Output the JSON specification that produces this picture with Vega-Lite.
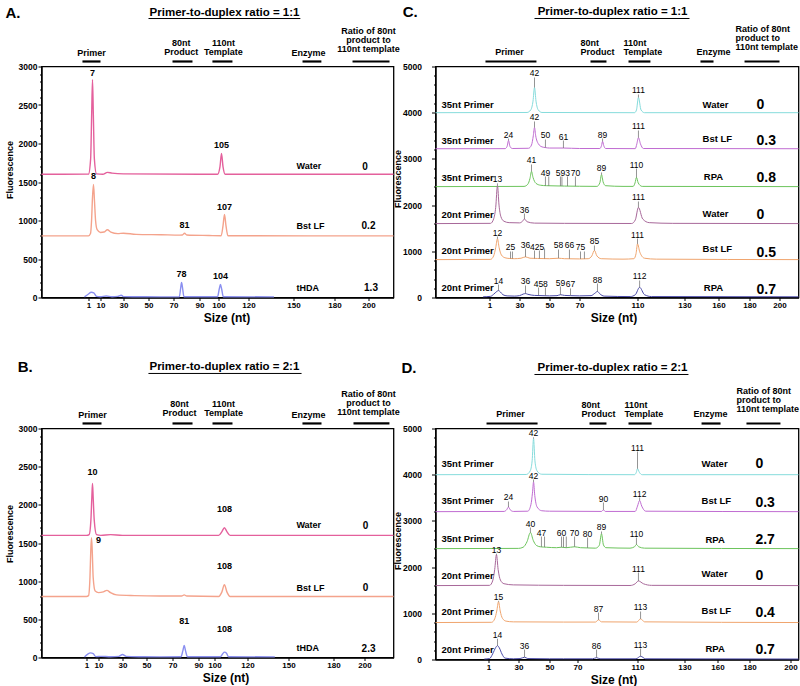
{
"$schema": "https://vega.github.io/schema/vega-lite/v6.json",
"background": "white",
"padding": {"left": 3.5, "top": 4.5, "right": 0, "bottom": 0},
"bounds": "flush",
"columns": 2,
"spacing": {"row": 131, "column": 42},
"resolve": {"scale": {"color": "independent"}},
"datasets": {
"A_tr": [
{"s":"Water","x":-34,"y":1600},{"s":"Water","x":1,"y":1602},{"s":"Water","x":2.6,"y":1800},{"s":"Water","x":3.4,"y":2400},{"s":"Water","x":4,"y":2830},{"s":"Water","x":4.6,"y":2400},{"s":"Water","x":5.4,"y":1800},{"s":"Water","x":7,"y":1605},{"s":"Water","x":12,"y":1600},{"s":"Water","x":16,"y":1625},{"s":"Water","x":20,"y":1615},{"s":"Water","x":30,"y":1605},{"s":"Water","x":90,"y":1600},{"s":"Water","x":99.5,"y":1600},{"s":"Water","x":101,"y":1700},{"s":"Water","x":102,"y":1870},{"s":"Water","x":103,"y":1700},{"s":"Water","x":104.5,"y":1600},{"s":"Water","x":220,"y":1600},
{"s":"Bst LF","x":-34,"y":800},{"s":"Bst LF","x":1,"y":800},{"s":"Bst LF","x":2.5,"y":830},{"s":"Bst LF","x":3.3,"y":1000},{"s":"Bst LF","x":4,"y":1300},{"s":"Bst LF","x":4.75,"y":1467},{"s":"Bst LF","x":5.5,"y":1250},{"s":"Bst LF","x":6.3,"y":1000},{"s":"Bst LF","x":7.5,"y":880},{"s":"Bst LF","x":10,"y":845},{"s":"Bst LF","x":13,"y":850},{"s":"Bst LF","x":16,"y":880},{"s":"Bst LF","x":19,"y":850},{"s":"Bst LF","x":25,"y":830},{"s":"Bst LF","x":30,"y":835},{"s":"Bst LF","x":40,"y":820},{"s":"Bst LF","x":60,"y":815},{"s":"Bst LF","x":75,"y":810},{"s":"Bst LF","x":76.8,"y":812},{"s":"Bst LF","x":78.5,"y":835},{"s":"Bst LF","x":80.2,"y":812},{"s":"Bst LF","x":95,"y":805},{"s":"Bst LF","x":101.8,"y":802},{"s":"Bst LF","x":103,"y":930},{"s":"Bst LF","x":104,"y":1078},{"s":"Bst LF","x":105,"y":930},{"s":"Bst LF","x":106.3,"y":802},{"s":"Bst LF","x":220,"y":800},
{"s":"tHDA","x":-2,"y":8},{"s":"tHDA","x":1,"y":45},{"s":"tHDA","x":3,"y":68},{"s":"tHDA","x":5,"y":60},{"s":"tHDA","x":7,"y":15},{"s":"tHDA","x":10,"y":10},{"s":"tHDA","x":15,"y":20},{"s":"tHDA","x":20,"y":10},{"s":"tHDA","x":25,"y":15},{"s":"tHDA","x":28,"y":30},{"s":"tHDA","x":30,"y":12},{"s":"tHDA","x":40,"y":10},{"s":"tHDA","x":60,"y":8},{"s":"tHDA","x":74.5,"y":10},{"s":"tHDA","x":75.5,"y":120},{"s":"tHDA","x":76.2,"y":195},{"s":"tHDA","x":77,"y":120},{"s":"tHDA","x":78,"y":10},{"s":"tHDA","x":99.5,"y":10},{"s":"tHDA","x":100.5,"y":110},{"s":"tHDA","x":101.3,"y":170},{"s":"tHDA","x":102.1,"y":110},{"s":"tHDA","x":103.2,"y":10},{"s":"tHDA","x":137,"y":8}
],
"A_lb": [
{"k":"peak","x":4,"y":2910,"t":"7"},{"k":"peak","x":102,"y":1987,"t":"105"},{"k":"peak","x":4.75,"y":1584,"t":"8"},{"k":"peak","x":78.5,"y":948,"t":"81"},{"k":"peak","x":104,"y":1169,"t":"107"},{"k":"peak","x":76.2,"y":299,"t":"78"},{"k":"peak","x":101.3,"y":273,"t":"104"},
{"k":"lane","x":152.2,"y":1714,"t":"Water"},{"k":"lane","x":152.2,"y":935,"t":"Bst LF"},{"k":"lane","x":152.2,"y":117,"t":"tHDA"},
{"k":"ratio","x":198,"y":1700,"t":"0"},{"k":"ratio","x":200,"y":935,"t":"0.2"},{"k":"ratio","x":202,"y":117,"t":"1.3"},
{"k":"head","x":3.25,"y":3104,"t":"Primer"},{"k":"head","x":76,"y":3234,"t":"80nt\nProduct"},{"k":"head","x":103.3,"y":3234,"t":"110nt\nTemplate"},{"k":"head","x":161,"y":3104,"t":"Enzyme"},{"k":"head","x":200,"y":3390,"t":"Ratio of 80nt\nproduct  to\n110nt template"},
{"k":"title","x":104,"y":3701,"t":"Primer-to-duplex ratio = 1:1"},{"k":"letter","x":-60.8,"y":3701,"t":"A."},
{"k":"bar","x":-3.5,"x2":10,"y":3065},{"k":"bar","x":69.2,"x2":84.6,"y":3065},{"k":"bar","x":96.8,"x2":109.3,"y":3065},{"k":"bar","x":156.6,"x2":170.4,"y":3065},{"k":"bar","x":190.6,"x2":216.8,"y":3065},{"k":"ul","x":50,"x2":155,"y":3623}
],
"B_tr": [
{"s":"Water","x":-33,"y":1600},{"s":"Water","x":1,"y":1600},{"s":"Water","x":3,"y":1610},{"s":"Water","x":4.3,"y":1800},{"s":"Water","x":5,"y":2100},{"s":"Water","x":5.5,"y":2280},{"s":"Water","x":6,"y":2100},{"s":"Water","x":6.8,"y":1800},{"s":"Water","x":8.5,"y":1610},{"s":"Water","x":12,"y":1600},{"s":"Water","x":20,"y":1610},{"s":"Water","x":30,"y":1600},{"s":"Water","x":102.5,"y":1600},{"s":"Water","x":104.5,"y":1650},{"s":"Water","x":106,"y":1700},{"s":"Water","x":107.5,"y":1650},{"s":"Water","x":109.5,"y":1600},{"s":"Water","x":220,"y":1600},
{"s":"Bst LF","x":-33,"y":800},{"s":"Bst LF","x":1,"y":800},{"s":"Bst LF","x":2.5,"y":810},{"s":"Bst LF","x":3.6,"y":1050},{"s":"Bst LF","x":4.2,"y":1400},{"s":"Bst LF","x":4.75,"y":1570},{"s":"Bst LF","x":5.3,"y":1400},{"s":"Bst LF","x":6,"y":1050},{"s":"Bst LF","x":7.5,"y":870},{"s":"Bst LF","x":10,"y":850},{"s":"Bst LF","x":14,"y":860},{"s":"Bst LF","x":17,"y":880},{"s":"Bst LF","x":20,"y":850},{"s":"Bst LF","x":25,"y":820},{"s":"Bst LF","x":40,"y":810},{"s":"Bst LF","x":60,"y":805},{"s":"Bst LF","x":77,"y":805},{"s":"Bst LF","x":79,"y":820},{"s":"Bst LF","x":81,"y":805},{"s":"Bst LF","x":102.5,"y":800},{"s":"Bst LF","x":104.5,"y":860},{"s":"Bst LF","x":106,"y":955},{"s":"Bst LF","x":107.5,"y":860},{"s":"Bst LF","x":109.5,"y":800},{"s":"Bst LF","x":220,"y":800},
{"s":"tHDA","x":-0.5,"y":8},{"s":"tHDA","x":2,"y":45},{"s":"tHDA","x":4,"y":60},{"s":"tHDA","x":6,"y":50},{"s":"tHDA","x":8,"y":12},{"s":"tHDA","x":12,"y":15},{"s":"tHDA","x":20,"y":10},{"s":"tHDA","x":27,"y":15},{"s":"tHDA","x":30,"y":40},{"s":"tHDA","x":33,"y":15},{"s":"tHDA","x":45,"y":10},{"s":"tHDA","x":60,"y":8},{"s":"tHDA","x":76.5,"y":10},{"s":"tHDA","x":78,"y":90},{"s":"tHDA","x":79,"y":157},{"s":"tHDA","x":80,"y":90},{"s":"tHDA","x":81.5,"y":10},{"s":"tHDA","x":103.5,"y":10},{"s":"tHDA","x":105,"y":50},{"s":"tHDA","x":106,"y":70},{"s":"tHDA","x":107.3,"y":55},{"s":"tHDA","x":108.5,"y":10},{"s":"tHDA","x":140,"y":8}
],
"B_lb": [
{"k":"peak","x":5.5,"y":2425,"t":"10"},{"k":"peak","x":106,"y":1940,"t":"108"},{"k":"peak","x":10,"y":1533,"t":"9"},{"k":"peak","x":106,"y":1205,"t":"108"},{"k":"peak","x":79,"y":472,"t":"81"},{"k":"peak","x":106,"y":367,"t":"108"},
{"k":"lane","x":155.3,"y":1730,"t":"Water"},{"k":"lane","x":155.3,"y":917,"t":"Bst LF"},{"k":"lane","x":155.3,"y":131,"t":"tHDA"},
{"k":"ratio","x":200.7,"y":1717,"t":"0"},{"k":"ratio","x":200.7,"y":904,"t":"0"},{"k":"ratio","x":202.8,"y":105,"t":"2.3"},
{"k":"head","x":5.5,"y":3105,"t":"Primer"},{"k":"head","x":75.4,"y":3262,"t":"80nt\nProduct"},{"k":"head","x":105.5,"y":3262,"t":"110nt\nTemplate"},{"k":"head","x":163.3,"y":3105,"t":"Enzyme"},{"k":"head","x":202.8,"y":3393,"t":"Ratio of 80nt\nproduct  to\n110nt template"},
{"k":"title","x":106,"y":3800,"t":"Primer-to-duplex ratio = 2:1"},{"k":"letter","x":-51,"y":3800,"t":"B."},
{"k":"bar","x":-2,"x2":12.5,"y":3066},{"k":"bar","x":70,"x2":85.4,"y":3066},{"k":"bar","x":98.75,"x2":110.9,"y":3066},{"k":"bar","x":159.3,"x2":172,"y":3066},{"k":"bar","x":192.9,"x2":217.2,"y":3066},{"k":"ul","x":51.5,"x2":158.7,"y":3721}
],
"C_tr": [
{"s":"c1","x":-50,"y":4000},{"s":"c1","x":35,"y":4005},{"s":"c1","x":37.5,"y":4060},{"s":"c1","x":39,"y":4250},{"s":"c1","x":40,"y":4545},{"s":"c1","x":41,"y":4250},{"s":"c1","x":42.5,"y":4060},{"s":"c1","x":45,"y":4005},{"s":"c1","x":108,"y":4000},{"s":"c1","x":109.3,"y":4060},{"s":"c1","x":110.4,"y":4330},{"s":"c1","x":111.5,"y":4060},{"s":"c1","x":113,"y":4000},{"s":"c1","x":220,"y":4000},
{"s":"c2","x":-50,"y":3220},{"s":"c2","x":16,"y":3222},{"s":"c2","x":18,"y":3270},{"s":"c2","x":19.4,"y":3400},{"s":"c2","x":20.8,"y":3270},{"s":"c2","x":23,"y":3225},{"s":"c2","x":36,"y":3230},{"s":"c2","x":38,"y":3300},{"s":"c2","x":39.2,"y":3500},{"s":"c2","x":40,"y":3680},{"s":"c2","x":40.8,"y":3500},{"s":"c2","x":42.5,"y":3330},{"s":"c2","x":45,"y":3260},{"s":"c2","x":47.3,"y":3245},{"s":"c2","x":50,"y":3235},{"s":"c2","x":59.3,"y":3235},{"s":"c2","x":70,"y":3225},{"s":"c2","x":84,"y":3225},{"s":"c2","x":85.2,"y":3290},{"s":"c2","x":85.9,"y":3380},{"s":"c2","x":86.7,"y":3290},{"s":"c2","x":88,"y":3225},{"s":"c2","x":108.5,"y":3222},{"s":"c2","x":109.5,"y":3320},{"s":"c2","x":110.4,"y":3460},{"s":"c2","x":111.3,"y":3320},{"s":"c2","x":112.5,"y":3225},{"s":"c2","x":220,"y":3220},
{"s":"c3","x":-50,"y":2400},{"s":"c3","x":33,"y":2405},{"s":"c3","x":35.5,"y":2450},{"s":"c3","x":37,"y":2580},{"s":"c3","x":38,"y":2730},{"s":"c3","x":39,"y":2600},{"s":"c3","x":41,"y":2470},{"s":"c3","x":44,"y":2430},{"s":"c3","x":48,"y":2420},{"s":"c3","x":55,"y":2415},{"s":"c3","x":60,"y":2412},{"s":"c3","x":70,"y":2408},{"s":"c3","x":82,"y":2405},{"s":"c3","x":84,"y":2480},{"s":"c3","x":85.2,"y":2660},{"s":"c3","x":86.3,"y":2500},{"s":"c3","x":88,"y":2420},{"s":"c3","x":100,"y":2405},{"s":"c3","x":107,"y":2405},{"s":"c3","x":108.3,"y":2480},{"s":"c3","x":109.3,"y":2600},{"s":"c3","x":110.3,"y":2480},{"s":"c3","x":112,"y":2405},{"s":"c3","x":220,"y":2400},
{"s":"c4","x":-50,"y":1600},{"s":"c4","x":2,"y":1605},{"s":"c4","x":5,"y":1700},{"s":"c4","x":7,"y":1950},{"s":"c4","x":8.7,"y":2420},{"s":"c4","x":10.2,"y":2000},{"s":"c4","x":12,"y":1750},{"s":"c4","x":15,"y":1650},{"s":"c4","x":20,"y":1620},{"s":"c4","x":30,"y":1615},{"s":"c4","x":32,"y":1650},{"s":"c4","x":33.3,"y":1700},{"s":"c4","x":35,"y":1640},{"s":"c4","x":40,"y":1610},{"s":"c4","x":60,"y":1605},{"s":"c4","x":106,"y":1602},{"s":"c4","x":108.5,"y":1680},{"s":"c4","x":110.4,"y":1950},{"s":"c4","x":112.2,"y":1700},{"s":"c4","x":115,"y":1620},{"s":"c4","x":125,"y":1605},{"s":"c4","x":220,"y":1600},
{"s":"c5","x":-50,"y":820},{"s":"c5","x":2,"y":825},{"s":"c5","x":5,"y":900},{"s":"c5","x":7,"y":1080},{"s":"c5","x":8.7,"y":1270},{"s":"c5","x":10.3,"y":1080},{"s":"c5","x":12.5,"y":920},{"s":"c5","x":16,"y":860},{"s":"c5","x":20,"y":845},{"s":"c5","x":25,"y":840},{"s":"c5","x":31,"y":850},{"s":"c5","x":34,"y":880},{"s":"c5","x":37,"y":850},{"s":"c5","x":42,"y":845},{"s":"c5","x":50,"y":840},{"s":"c5","x":56,"y":850},{"s":"c5","x":60,"y":840},{"s":"c5","x":70,"y":835},{"s":"c5","x":76,"y":840},{"s":"c5","x":78.5,"y":900},{"s":"c5","x":80.3,"y":1020},{"s":"c5","x":82,"y":900},{"s":"c5","x":85,"y":840},{"s":"c5","x":100,"y":830},{"s":"c5","x":107.5,"y":840},{"s":"c5","x":109,"y":950},{"s":"c5","x":110,"y":1160},{"s":"c5","x":111,"y":980},{"s":"c5","x":113,"y":850},{"s":"c5","x":118,"y":830},{"s":"c5","x":220,"y":820},
{"s":"c6","x":-5,"y":15},{"s":"c6","x":2,"y":25},{"s":"c6","x":5,"y":70},{"s":"c6","x":8,"y":130},{"s":"c6","x":9.7,"y":150},{"s":"c6","x":11.5,"y":120},{"s":"c6","x":14,"y":60},{"s":"c6","x":18,"y":35},{"s":"c6","x":25,"y":30},{"s":"c6","x":30,"y":40},{"s":"c6","x":32.5,"y":75},{"s":"c6","x":34,"y":85},{"s":"c6","x":35.5,"y":70},{"s":"c6","x":40,"y":45},{"s":"c6","x":45,"y":40},{"s":"c6","x":50,"y":35},{"s":"c6","x":55,"y":40},{"s":"c6","x":57.3,"y":60},{"s":"c6","x":60,"y":45},{"s":"c6","x":64,"y":40},{"s":"c6","x":70,"y":35},{"s":"c6","x":78,"y":40},{"s":"c6","x":80.5,"y":90},{"s":"c6","x":82.4,"y":130},{"s":"c6","x":84,"y":80},{"s":"c6","x":87,"y":30},{"s":"c6","x":105,"y":20},{"s":"c6","x":108.5,"y":60},{"s":"c6","x":110.9,"y":220},{"s":"c6","x":113,"y":60},{"s":"c6","x":116,"y":20},{"s":"c6","x":220,"y":15}
],
"C_lb": [
{"k":"peak","x":40,"y":4762,"ytop":4545,"t":"42"},{"k":"peak","x":110.4,"y":4394,"ytop":4330,"t":"111"},
{"k":"peak","x":19.4,"y":3441,"ytop":3400,"t":"24"},{"k":"peak","x":40,"y":3810,"ytop":3680,"t":"42"},{"k":"peak","x":47.3,"y":3420,"ytop":3245,"t":"50"},{"k":"peak","x":59.3,"y":3398,"ytop":3235,"t":"61"},{"k":"peak","x":85.9,"y":3441,"ytop":3380,"t":"89"},{"k":"peak","x":110.4,"y":3615,"ytop":3460,"t":"111"},
{"k":"peak","x":38,"y":2879,"ytop":2730,"t":"41"},{"k":"peak","x":47.3,"y":2619,"ytop":2420,"t":"49"},{"k":"peak","x":49.5,"y":2619,"ytop":2418,"t":""},{"k":"peak","x":57.3,"y":2619,"ytop":2415,"t":"59"},{"k":"peak","x":58.3,"y":2619,"ytop":2414,"t":""},{"k":"peak","x":62,"y":2619,"ytop":2412,"t":"3"},{"k":"peak","x":67.3,"y":2619,"ytop":2410,"t":"70"},{"k":"peak","x":85.2,"y":2706,"ytop":2660,"t":"89"},{"k":"peak","x":109.3,"y":2792,"ytop":2600,"t":"110"},
{"k":"peak","x":8.7,"y":2470,"ytop":2420,"t":"13"},{"k":"peak","x":33.3,"y":1818,"ytop":1700,"t":"36"},{"k":"peak","x":110.4,"y":2078,"ytop":1950,"t":"111"},
{"k":"peak","x":8.7,"y":1320,"ytop":1270,"t":"12"},{"k":"peak","x":21.3,"y":996,"ytop":845,"t":"25"},{"k":"peak","x":23.2,"y":996,"ytop":843,"t":""},{"k":"peak","x":34,"y":1060,"ytop":880,"t":"36"},{"k":"peak","x":40,"y":1017,"ytop":845,"t":""},{"k":"peak","x":43.3,"y":1017,"ytop":845,"t":""},{"k":"peak","x":41.7,"y":1017,"ytop":1017,"t":"425"},{"k":"peak","x":46.7,"y":1060,"ytop":843,"t":""},{"k":"peak","x":56,"y":1039,"ytop":850,"t":"58"},{"k":"peak","x":63.3,"y":1039,"ytop":840,"t":"66"},{"k":"peak","x":70.7,"y":996,"ytop":836,"t":"75"},{"k":"peak","x":73.4,"y":996,"ytop":838,"t":""},{"k":"peak","x":80.3,"y":1126,"ytop":1020,"t":"85"},{"k":"peak","x":110,"y":1277,"ytop":1160,"t":"111"},
{"k":"peak","x":9.7,"y":281,"ytop":150,"t":"14"},{"k":"peak","x":34,"y":260,"ytop":85,"t":"36"},{"k":"peak","x":42.7,"y":216,"ytop":45,"t":"45"},{"k":"peak","x":47.3,"y":216,"ytop":40,"t":"8"},{"k":"peak","x":57.3,"y":238,"ytop":60,"t":"59"},{"k":"peak","x":64,"y":195,"ytop":40,"t":"67"},{"k":"peak","x":82.4,"y":303,"ytop":130,"t":"88"},{"k":"peak","x":110.9,"y":368,"ytop":220,"t":"112"},
{"k":"lane","x":-44.3,"y":4177,"t":"35nt Primer"},{"k":"lane","x":-44.3,"y":3377,"t":"35nt Primer"},{"k":"lane","x":-44.3,"y":2597,"t":"35nt Primer"},{"k":"lane","x":-44.3,"y":1775,"t":"20nt Primer"},{"k":"lane","x":-44.3,"y":996,"t":"20nt Primer"},{"k":"lane","x":-44.3,"y":195,"t":"20nt Primer"},
{"k":"lane","x":145.9,"y":4177,"t":"Water"},{"k":"lane","x":145.9,"y":3420,"t":"Bst LF"},{"k":"lane","x":147,"y":2619,"t":"RPA"},{"k":"lane","x":145.9,"y":1818,"t":"Water"},{"k":"lane","x":145.9,"y":1039,"t":"Bst LF"},{"k":"lane","x":147,"y":195,"t":"RPA"},
{"k":"ratio","x":184.7,"y":4177,"t":"0"},{"k":"ratio","x":184.7,"y":3398,"t":"0.3"},{"k":"ratio","x":184.7,"y":2597,"t":"0.8"},{"k":"ratio","x":184.7,"y":1775,"t":"0"},{"k":"ratio","x":184.7,"y":974,"t":"0.5"},{"k":"ratio","x":184.7,"y":173,"t":"0.7"},
{"k":"head","x":20.3,"y":5216,"t":"Primer"},{"k":"head","x":155.6,"y":5216,"t":"Enzyme"},
{"k":"headL","x":70.7,"y":5411,"t":"80nt\nProduct"},{"k":"headL","x":100.3,"y":5411,"t":"110nt\nTemplate"},{"k":"headL","x":171,"y":5693,"t":"Ratio of 80nt\nproduct  to\n110nt template"},
{"k":"title","x":92.8,"y":6169,"t":"Primer-to-duplex ratio = 1:1"},{"k":"letter","x":-81,"y":6169,"t":"C."},
{"k":"bar","x":-2.8,"x2":41.3,"y":5108},{"k":"bar","x":77.6,"x2":88.6,"y":5108},{"k":"bar","x":103.8,"x2":115.5,"y":5108},{"k":"bar","x":144.1,"x2":155.6,"y":5108},{"k":"bar","x":176.8,"x2":200,"y":5108},{"k":"ul","x":40,"x2":134.4,"y":6039}
],
"D_tr": [
{"s":"d1","x":-50,"y":4000},{"s":"d1","x":35,"y":4005},{"s":"d1","x":37.5,"y":4080},{"s":"d1","x":38.8,"y":4300},{"s":"d1","x":39.7,"y":4780},{"s":"d1","x":40.6,"y":4300},{"s":"d1","x":42,"y":4080},{"s":"d1","x":45,"y":4010},{"s":"d1","x":108,"y":4000},{"s":"d1","x":109.2,"y":4050},{"s":"d1","x":110,"y":4130},{"s":"d1","x":110.8,"y":4050},{"s":"d1","x":112,"y":4000},{"s":"d1","x":206,"y":4000},
{"s":"d2","x":-50,"y":3200},{"s":"d2","x":16,"y":3205},{"s":"d2","x":18.5,"y":3240},{"s":"d2","x":20.3,"y":3300},{"s":"d2","x":22,"y":3240},{"s":"d2","x":25,"y":3205},{"s":"d2","x":36,"y":3210},{"s":"d2","x":38,"y":3350},{"s":"d2","x":39,"y":3600},{"s":"d2","x":39.7,"y":3840},{"s":"d2","x":40.5,"y":3550},{"s":"d2","x":42,"y":3300},{"s":"d2","x":45,"y":3220},{"s":"d2","x":50,"y":3210},{"s":"d2","x":86,"y":3205},{"s":"d2","x":87.3,"y":3240},{"s":"d2","x":88.5,"y":3205},{"s":"d2","x":108.5,"y":3205},{"s":"d2","x":110,"y":3320},{"s":"d2","x":110.9,"y":3440},{"s":"d2","x":111.8,"y":3320},{"s":"d2","x":113.5,"y":3210},{"s":"d2","x":206,"y":3200},
{"s":"d3","x":-50,"y":2400},{"s":"d3","x":30,"y":2405},{"s":"d3","x":33,"y":2430},{"s":"d3","x":35.5,"y":2550},{"s":"d3","x":37.7,"y":2750},{"s":"d3","x":39.5,"y":2580},{"s":"d3","x":41.5,"y":2470},{"s":"d3","x":44,"y":2440},{"s":"d3","x":48,"y":2430},{"s":"d3","x":55,"y":2420},{"s":"d3","x":58.6,"y":2430},{"s":"d3","x":62,"y":2420},{"s":"d3","x":67.9,"y":2440},{"s":"d3","x":72,"y":2420},{"s":"d3","x":76.7,"y":2415},{"s":"d3","x":82,"y":2410},{"s":"d3","x":84.5,"y":2470},{"s":"d3","x":86,"y":2720},{"s":"d3","x":87.3,"y":2480},{"s":"d3","x":89,"y":2420},{"s":"d3","x":105,"y":2410},{"s":"d3","x":108,"y":2440},{"s":"d3","x":109.3,"y":2490},{"s":"d3","x":110.5,"y":2440},{"s":"d3","x":113,"y":2410},{"s":"d3","x":206,"y":2400},
{"s":"d4","x":-50,"y":1600},{"s":"d4","x":2,"y":1605},{"s":"d4","x":5,"y":1700},{"s":"d4","x":7,"y":1950},{"s":"d4","x":8.7,"y":2270},{"s":"d4","x":10.3,"y":1950},{"s":"d4","x":12.5,"y":1720},{"s":"d4","x":16,"y":1640},{"s":"d4","x":25,"y":1615},{"s":"d4","x":60,"y":1605},{"s":"d4","x":105,"y":1602},{"s":"d4","x":108.5,"y":1640},{"s":"d4","x":110.4,"y":1700},{"s":"d4","x":112.5,"y":1640},{"s":"d4","x":116,"y":1605},{"s":"d4","x":206,"y":1600},
{"s":"d5","x":-50,"y":800},{"s":"d5","x":4,"y":805},{"s":"d5","x":7,"y":880},{"s":"d5","x":9,"y":1050},{"s":"d5","x":10.7,"y":1250},{"s":"d5","x":12.3,"y":1050},{"s":"d5","x":14.5,"y":890},{"s":"d5","x":18,"y":830},{"s":"d5","x":25,"y":815},{"s":"d5","x":60,"y":810},{"s":"d5","x":82,"y":810},{"s":"d5","x":84,"y":860},{"s":"d5","x":86,"y":815},{"s":"d5","x":109.5,"y":810},{"s":"d5","x":111.3,"y":880},{"s":"d5","x":113,"y":815},{"s":"d5","x":206,"y":800},
{"s":"d6","x":-3,"y":10},{"s":"d6","x":2,"y":20},{"s":"d6","x":5,"y":120},{"s":"d6","x":8,"y":260},{"s":"d6","x":9.7,"y":300},{"s":"d6","x":11.5,"y":250},{"s":"d6","x":14,"y":120},{"s":"d6","x":17,"y":30},{"s":"d6","x":25,"y":15},{"s":"d6","x":31,"y":20},{"s":"d6","x":33.9,"y":50},{"s":"d6","x":36,"y":20},{"s":"d6","x":50,"y":15},{"s":"d6","x":60,"y":15},{"s":"d6","x":80,"y":15},{"s":"d6","x":82.7,"y":40},{"s":"d6","x":85,"y":15},{"s":"d6","x":109,"y":15},{"s":"d6","x":111.3,"y":70},{"s":"d6","x":113.5,"y":15},{"s":"d6","x":206,"y":10}
],
"D_lb": [
{"k":"peak","x":39.7,"y":4810,"ytop":4780,"t":"42"},{"k":"peak","x":110,"y":4502,"ytop":4130,"t":"111"},
{"k":"peak","x":20.3,"y":3420,"ytop":3300,"t":"24"},{"k":"peak","x":39.7,"y":3896,"ytop":3840,"t":"42"},{"k":"peak","x":87.3,"y":3398,"ytop":3240,"t":"90"},{"k":"peak","x":110.9,"y":3506,"ytop":3440,"t":"112"},
{"k":"peak","x":37.7,"y":2857,"ytop":2750,"t":"40"},{"k":"peak","x":44.8,"y":2662,"ytop":2440,"t":"47"},{"k":"peak","x":46.8,"y":2662,"ytop":2435,"t":""},{"k":"peak","x":58.6,"y":2662,"ytop":2430,"t":"60"},{"k":"peak","x":60,"y":2662,"ytop":2428,"t":""},{"k":"peak","x":62,"y":2662,"ytop":2420,"t":""},{"k":"peak","x":67.9,"y":2662,"ytop":2440,"t":"70"},{"k":"peak","x":76.7,"y":2640,"ytop":2415,"t":"80"},{"k":"peak","x":86,"y":2771,"ytop":2720,"t":"89"},{"k":"peak","x":109.3,"y":2640,"ytop":2490,"t":"110"},
{"k":"peak","x":8.7,"y":2290,"ytop":2270,"t":"13"},{"k":"peak","x":110.4,"y":1883,"ytop":1700,"t":"111"},
{"k":"peak","x":10.7,"y":1270,"ytop":1250,"t":"15"},{"k":"peak","x":84,"y":1017,"ytop":860,"t":"87"},{"k":"peak","x":111.3,"y":1039,"ytop":880,"t":"113"},
{"k":"peak","x":9.7,"y":450,"ytop":303,"t":"14"},{"k":"peak","x":33.9,"y":216,"ytop":50,"t":"36"},{"k":"peak","x":82.7,"y":216,"ytop":40,"t":"86"},{"k":"peak","x":111.3,"y":238,"ytop":70,"t":"113"},
{"k":"lane","x":-44.2,"y":4221,"t":"35nt Primer"},{"k":"lane","x":-44.2,"y":3420,"t":"35nt Primer"},{"k":"lane","x":-44.2,"y":2619,"t":"35nt Primer"},{"k":"lane","x":-44.2,"y":1818,"t":"20nt Primer"},{"k":"lane","x":-44.2,"y":1024,"t":"20nt Primer"},{"k":"lane","x":-44.2,"y":216,"t":"20nt Primer"},
{"k":"lane","x":145.5,"y":4221,"t":"Water"},{"k":"lane","x":145.5,"y":3420,"t":"Bst LF"},{"k":"lane","x":149,"y":2597,"t":"RPA"},{"k":"lane","x":145.5,"y":1840,"t":"Water"},{"k":"lane","x":145.5,"y":1046,"t":"Bst LF"},{"k":"lane","x":149,"y":231,"t":"RPA"},
{"k":"ratio","x":182.9,"y":4221,"t":"0"},{"k":"ratio","x":182.9,"y":3398,"t":"0.3"},{"k":"ratio","x":182.9,"y":2597,"t":"2.7"},{"k":"ratio","x":182.9,"y":1818,"t":"0"},{"k":"ratio","x":182.9,"y":1002,"t":"0.4"},{"k":"ratio","x":182.9,"y":195,"t":"0.7"},
{"k":"head","x":22.3,"y":5216,"t":"Primer"},{"k":"head","x":153.6,"y":5216,"t":"Enzyme"},
{"k":"headL","x":72.7,"y":5411,"t":"80nt\nProduct"},{"k":"headL","x":101.3,"y":5411,"t":"110nt\nTemplate"},{"k":"headL","x":171.9,"y":5693,"t":"Ratio of 80nt\nproduct  to\n110nt template"},
{"k":"title","x":93.3,"y":6299,"t":"Primer-to-duplex ratio = 2:1"},{"k":"letter","x":-82.7,"y":6299,"t":"D."},
{"k":"bar","x":-0.9,"x2":42.3,"y":5108},{"k":"bar","x":78,"x2":89.3,"y":5108},{"k":"bar","x":104,"x2":116,"y":5108},{"k":"bar","x":145.5,"x2":161.9,"y":5108},{"k":"bar","x":178.1,"x2":195.1,"y":5108},{"k":"ul","x":40.3,"x2":133.6,"y":6169}
]
},
"concat": [
{
"width": 352, "height": 231,
"encoding": {
"x": {"field":"x","type":"quantitative","scale":{"domain":[-34,1,10,30,50,70,90,100,120,150,180,200,220],"range":[0,47,59,82,107,132,158,177,207,252,293,327,352]},"axis":{"values":[1,10,30,50,70,90,100,120,150,180,200],"title":"Size (nt)","titleX":185,"titleAlign":"center"}},
"y": {"field":"y","type":"quantitative","scale":{"domain":[0,3000],"nice":false},"axis":{"values":[0,100,200,300,400,500,600,700,800,900,1000,1100,1200,1300,1400,1500,1600,1700,1800,1900,2000,2100,2200,2300,2400,2500,2600,2700,2800,2900,3000],"labelExpr":"datum.value % 500 === 0 ? datum.label : ''","format":"d","title":"Fluorescence","titleY":103,"titlePadding":4,"tickSize":{"condition":{"test":"datum.value % 500 === 0","value":3.5},"value":2},"labelPadding":1}}
},
"layer": [
{"data":{"name":"A_tr"},"mark":{"type":"line","interpolate":"monotone","strokeWidth":1.4},"encoding":{"color":{"field":"s","type":"nominal","scale":{"domain":["Water","Bst LF","tHDA"],"range":["#e4609c","#f4a38c","#8a8ff0"]},"legend":null}}},
{"data":{"name":"A_lb"},"transform":[{"filter":"datum.k=='peak'"}],"mark":{"type":"text","fontSize":9,"fontWeight":"bold","baseline":"middle"},"encoding":{"text":{"field":"t","type":"nominal"}}},
{"data":{"name":"A_lb"},"transform":[{"filter":"datum.k=='lane'"}],"mark":{"type":"text","fontSize":9,"fontWeight":"bold","baseline":"middle","align":"left"},"encoding":{"text":{"field":"t","type":"nominal"}}},
{"data":{"name":"A_lb"},"transform":[{"filter":"datum.k=='ratio'"}],"mark":{"type":"text","fontSize":10,"fontWeight":"bold","baseline":"middle"},"encoding":{"text":{"field":"t","type":"nominal"}}},
{"data":{"name":"A_lb"},"transform":[{"filter":"datum.k=='head'"}],"mark":{"type":"text","fontSize":9,"fontWeight":"bold","baseline":"bottom","lineBreak":"\n","lineHeight":9},"encoding":{"text":{"field":"t","type":"nominal"}}},
{"data":{"name":"A_lb"},"transform":[{"filter":"datum.k=='title'"}],"mark":{"type":"text","fontSize":11.5,"fontWeight":"bold","baseline":"middle"},"encoding":{"text":{"field":"t","type":"nominal"}}},
{"data":{"name":"A_lb"},"transform":[{"filter":"datum.k=='letter'"}],"mark":{"type":"text","fontSize":15,"fontWeight":"bold","baseline":"middle","align":"left"},"encoding":{"text":{"field":"t","type":"nominal"}}},
{"data":{"name":"A_lb"},"transform":[{"filter":"datum.k=='bar'"}],"mark":{"type":"rule","strokeWidth":2.2,"color":"black"},"encoding":{"x2":{"field":"x2"}}},
{"data":{"name":"A_lb"},"transform":[{"filter":"datum.k=='ul'"}],"mark":{"type":"rule","strokeWidth":1,"color":"black"},"encoding":{"x2":{"field":"x2"}}}
]
},
{
"width": 363, "height": 231,
"encoding": {
"x": {"field":"x","type":"quantitative","scale":{"domain":[-50,1,30,50,70,110,130,160,180,200,220],"range":[0,54,84,114,144,202,249,283,314,344,363]},"axis":{"values":[1,30,50,70,110,130,160,180,200],"title":"Size (nt)","titleX":178,"titleAlign":"center"}},
"y": {"field":"y","type":"quantitative","scale":{"domain":[0,5000],"nice":false},"axis":{"values":[0,200,400,600,800,1000,1200,1400,1600,1800,2000,2200,2400,2600,2800,3000,3200,3400,3600,3800,4000,4200,4400,4600,4800,5000],"labelExpr":"datum.value % 1000 === 0 ? datum.label : ''","format":"d","title":"Fluorescence","titleY":112,"titlePadding":0,"tickSize":{"condition":{"test":"datum.value % 1000 === 0","value":4},"value":2},"labelPadding":10}}
},
"layer": [
{"data":{"name":"C_tr"},"mark":{"type":"line","interpolate":"monotone","strokeWidth":1},"encoding":{"color":{"field":"s","type":"nominal","scale":{"domain":["c1","c2","c3","c4","c5","c6"],"range":["#86dcdc","#c06cd2","#6cc45c","#a8689a","#f0a56e","#4a4aa8"]},"legend":null}}},
{"data":{"name":"C_lb"},"transform":[{"filter":"datum.k=='peak'"}],"mark":{"type":"rule","strokeWidth":0.7,"color":"#666666"},"encoding":{"y2":{"field":"ytop"}}},
{"data":{"name":"C_lb"},"transform":[{"filter":"datum.k=='peak'"}],"mark":{"type":"text","fontSize":8.5,"font":"Liberation Sans Narrow, Liberation Sans","baseline":"alphabetic","dy":-1},"encoding":{"text":{"field":"t","type":"nominal"}}},
{"data":{"name":"C_lb"},"transform":[{"filter":"datum.k=='lane'"}],"mark":{"type":"text","fontSize":9.5,"fontWeight":"bold","baseline":"middle","align":"left"},"encoding":{"text":{"field":"t","type":"nominal"}}},
{"data":{"name":"C_lb"},"transform":[{"filter":"datum.k=='ratio'"}],"mark":{"type":"text","fontSize":14,"fontWeight":"bold","baseline":"middle","align":"left"},"encoding":{"text":{"field":"t","type":"nominal"}}},
{"data":{"name":"C_lb"},"transform":[{"filter":"datum.k=='head'"}],"mark":{"type":"text","fontSize":9,"fontWeight":"bold","baseline":"bottom","lineBreak":"\n","lineHeight":9},"encoding":{"text":{"field":"t","type":"nominal"}}},
{"data":{"name":"C_lb"},"transform":[{"filter":"datum.k=='headL'"}],"mark":{"type":"text","fontSize":9,"fontWeight":"bold","baseline":"bottom","align":"left","lineBreak":"\n","lineHeight":9},"encoding":{"text":{"field":"t","type":"nominal"}}},
{"data":{"name":"C_lb"},"transform":[{"filter":"datum.k=='title'"}],"mark":{"type":"text","fontSize":11.5,"fontWeight":"bold","baseline":"middle"},"encoding":{"text":{"field":"t","type":"nominal"}}},
{"data":{"name":"C_lb"},"transform":[{"filter":"datum.k=='letter'"}],"mark":{"type":"text","fontSize":15,"fontWeight":"bold","baseline":"middle","align":"left"},"encoding":{"text":{"field":"t","type":"nominal"}}},
{"data":{"name":"C_lb"},"transform":[{"filter":"datum.k=='bar'"}],"mark":{"type":"rule","strokeWidth":2.2,"color":"black"},"encoding":{"x2":{"field":"x2"}}},
{"data":{"name":"C_lb"},"transform":[{"filter":"datum.k=='ul'"}],"mark":{"type":"rule","strokeWidth":1,"color":"black"},"encoding":{"x2":{"field":"x2"}}}
]
},
{
"width": 352, "height": 229,
"encoding": {
"x": {"field":"x","type":"quantitative","scale":{"domain":[-33,1,10,30,50,70,90,100,120,150,180,200,220],"range":[0,45,57,81,105,131,157,173,206,247,292,323,352]},"axis":{"values":[1,10,30,50,70,90,100,120,150,180,200],"title":"Size (nt)","titleX":184,"titleAlign":"center"}},
"y": {"field":"y","type":"quantitative","scale":{"domain":[0,3000],"nice":false},"axis":{"values":[0,100,200,300,400,500,600,700,800,900,1000,1100,1200,1300,1400,1500,1600,1700,1800,1900,2000,2100,2200,2300,2400,2500,2600,2700,2800,2900,3000],"labelExpr":"datum.value % 500 === 0 ? datum.label : ''","format":"d","title":"Fluorescence","titleY":105,"titlePadding":4,"tickSize":{"condition":{"test":"datum.value % 500 === 0","value":3.5},"value":2},"labelPadding":1}}
},
"layer": [
{"data":{"name":"B_tr"},"mark":{"type":"line","interpolate":"monotone","strokeWidth":1.4},"encoding":{"color":{"field":"s","type":"nominal","scale":{"domain":["Water","Bst LF","tHDA"],"range":["#e4609c","#f4a38c","#8a8ff0"]},"legend":null}}},
{"data":{"name":"B_lb"},"transform":[{"filter":"datum.k=='peak'"}],"mark":{"type":"text","fontSize":9,"fontWeight":"bold","baseline":"middle"},"encoding":{"text":{"field":"t","type":"nominal"}}},
{"data":{"name":"B_lb"},"transform":[{"filter":"datum.k=='lane'"}],"mark":{"type":"text","fontSize":9,"fontWeight":"bold","baseline":"middle","align":"left"},"encoding":{"text":{"field":"t","type":"nominal"}}},
{"data":{"name":"B_lb"},"transform":[{"filter":"datum.k=='ratio'"}],"mark":{"type":"text","fontSize":10,"fontWeight":"bold","baseline":"middle"},"encoding":{"text":{"field":"t","type":"nominal"}}},
{"data":{"name":"B_lb"},"transform":[{"filter":"datum.k=='head'"}],"mark":{"type":"text","fontSize":9,"fontWeight":"bold","baseline":"bottom","lineBreak":"\n","lineHeight":9},"encoding":{"text":{"field":"t","type":"nominal"}}},
{"data":{"name":"B_lb"},"transform":[{"filter":"datum.k=='title'"}],"mark":{"type":"text","fontSize":11.5,"fontWeight":"bold","baseline":"middle"},"encoding":{"text":{"field":"t","type":"nominal"}}},
{"data":{"name":"B_lb"},"transform":[{"filter":"datum.k=='letter'"}],"mark":{"type":"text","fontSize":15,"fontWeight":"bold","baseline":"middle","align":"left"},"encoding":{"text":{"field":"t","type":"nominal"}}},
{"data":{"name":"B_lb"},"transform":[{"filter":"datum.k=='bar'"}],"mark":{"type":"rule","strokeWidth":2.2,"color":"black"},"encoding":{"x2":{"field":"x2"}}},
{"data":{"name":"B_lb"},"transform":[{"filter":"datum.k=='ul'"}],"mark":{"type":"rule","strokeWidth":1,"color":"black"},"encoding":{"x2":{"field":"x2"}}}
]
},
{
"width": 363, "height": 231,
"encoding": {
"x": {"field":"x","type":"quantitative","scale":{"domain":[-50,1,30,50,70,110,130,160,180,200,206],"range":[0,53,83,114,142,202,249,282,314,355,363]},"axis":{"values":[1,30,50,70,110,130,160,180,200],"title":"Size (nt)","titleX":178,"titleAlign":"center"}},
"y": {"field":"y","type":"quantitative","scale":{"domain":[0,5000],"nice":false},"axis":{"values":[0,200,400,600,800,1000,1200,1400,1600,1800,2000,2200,2400,2600,2800,3000,3200,3400,3600,3800,4000,4200,4400,4600,4800,5000],"labelExpr":"datum.value % 1000 === 0 ? datum.label : ''","format":"d","title":"Fluorescence","titleY":112,"titlePadding":0,"tickSize":{"condition":{"test":"datum.value % 1000 === 0","value":4},"value":2},"labelPadding":10}}
},
"layer": [
{"data":{"name":"D_tr"},"mark":{"type":"line","interpolate":"monotone","strokeWidth":1},"encoding":{"color":{"field":"s","type":"nominal","scale":{"domain":["d1","d2","d3","d4","d5","d6"],"range":["#86dcdc","#c06cd2","#6cc45c","#a8689a","#f0a56e","#4a4aa8"]},"legend":null}}},
{"data":{"name":"D_lb"},"transform":[{"filter":"datum.k=='peak'"}],"mark":{"type":"rule","strokeWidth":0.7,"color":"#666666"},"encoding":{"y2":{"field":"ytop"}}},
{"data":{"name":"D_lb"},"transform":[{"filter":"datum.k=='peak'"}],"mark":{"type":"text","fontSize":8.5,"font":"Liberation Sans Narrow, Liberation Sans","baseline":"alphabetic","dy":-1},"encoding":{"text":{"field":"t","type":"nominal"}}},
{"data":{"name":"D_lb"},"transform":[{"filter":"datum.k=='lane'"}],"mark":{"type":"text","fontSize":9.5,"fontWeight":"bold","baseline":"middle","align":"left"},"encoding":{"text":{"field":"t","type":"nominal"}}},
{"data":{"name":"D_lb"},"transform":[{"filter":"datum.k=='ratio'"}],"mark":{"type":"text","fontSize":14,"fontWeight":"bold","baseline":"middle","align":"left"},"encoding":{"text":{"field":"t","type":"nominal"}}},
{"data":{"name":"D_lb"},"transform":[{"filter":"datum.k=='head'"}],"mark":{"type":"text","fontSize":9,"fontWeight":"bold","baseline":"bottom","lineBreak":"\n","lineHeight":9},"encoding":{"text":{"field":"t","type":"nominal"}}},
{"data":{"name":"D_lb"},"transform":[{"filter":"datum.k=='headL'"}],"mark":{"type":"text","fontSize":9,"fontWeight":"bold","baseline":"bottom","align":"left","lineBreak":"\n","lineHeight":9},"encoding":{"text":{"field":"t","type":"nominal"}}},
{"data":{"name":"D_lb"},"transform":[{"filter":"datum.k=='title'"}],"mark":{"type":"text","fontSize":11.5,"fontWeight":"bold","baseline":"middle"},"encoding":{"text":{"field":"t","type":"nominal"}}},
{"data":{"name":"D_lb"},"transform":[{"filter":"datum.k=='letter'"}],"mark":{"type":"text","fontSize":15,"fontWeight":"bold","baseline":"middle","align":"left"},"encoding":{"text":{"field":"t","type":"nominal"}}},
{"data":{"name":"D_lb"},"transform":[{"filter":"datum.k=='bar'"}],"mark":{"type":"rule","strokeWidth":2.2,"color":"black"},"encoding":{"x2":{"field":"x2"}}},
{"data":{"name":"D_lb"},"transform":[{"filter":"datum.k=='ul'"}],"mark":{"type":"rule","strokeWidth":1,"color":"black"},"encoding":{"x2":{"field":"x2"}}}
]
}
],
"config": {
"font": "Liberation Sans",
"view": {"stroke": "black", "strokeWidth": 1.3},
"axis": {"grid": false, "domainColor": "black", "domainWidth": 1.3, "tickColor": "black", "labelFont": "Liberation Sans", "labelFontWeight": "bold", "labelFontSize": 8.5, "labelColor": "black", "titleFont": "Liberation Sans", "titleFontWeight": "bold", "titleColor": "black", "labelOverlap": false, "labelBound": false, "labelFlush": false},
"axisX": {"tickSize": 3, "labelPadding": 1, "titleFontSize": 12, "titlePadding": 3, "labelFontSize": 8},
"axisY": {"titleFontSize": 9},
"text": {"font": "Liberation Sans", "color": "black"}
}
}
